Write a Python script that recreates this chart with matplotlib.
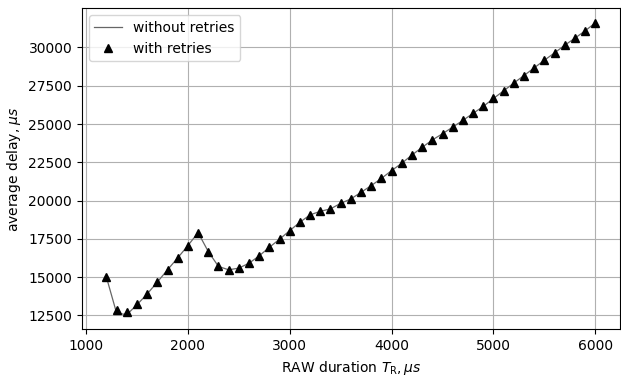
import numpy as np
import matplotlib
matplotlib.use("Agg")
import matplotlib.pyplot as plt

# RAW duration, us
raw_duration = [1200, 1300, 1400, 1500, 1600, 1700, 1800, 1900, 2000, 2100,
                2200, 2300, 2400, 2500, 2600, 2700, 2800, 2900, 3000, 3100,
                3200, 3300, 3400, 3500, 3600, 3700, 3800, 3900, 4000, 4100,
                4200, 4300, 4400, 4500, 4600, 4700, 4800, 4900, 5000, 5100,
                5200, 5300, 5400, 5500, 5600, 5700, 5800, 5900, 6000]

# average delay with retries, us
delay_retries = [15000, 12850, 12750, 13260, 13920, 14680, 15480, 16260, 17060, 17910,
                 16670, 15700, 15480, 15590, 15910, 16390, 16950, 17480, 18040, 18590,
                 19070, 19300, 19460, 19820, 20110, 20540, 20980, 21450, 21960, 22440,
                 22980, 23480, 23960, 24370, 24800, 25240, 25700, 26150, 26670, 27170,
                 27680, 28170, 28670, 29170, 29650, 30150, 30610, 31090, 31610]

# average delay without retries, us
delay_no_retries = [15000, 12650, 12550, 13200, 13900, 14680, 15480, 16260, 17060, 17910,
                    16670, 15700, 15480, 15590, 15910, 16390, 16950, 17480, 18040, 18590,
                    19070, 19300, 19460, 19820, 20110, 20540, 20980, 21450, 21960, 22440,
                    22980, 23480, 23960, 24370, 24800, 25240, 25700, 26150, 26670, 27170,
                    27680, 28170, 28670, 29170, 29650, 30150, 30610, 31090, 31610]

fig, ax = plt.subplots(figsize=(6.21, 3.75), dpi=100)
fig.subplots_adjust(left=0.132, right=0.998, top=0.978, bottom=0.122)

ax.plot(raw_duration, delay_no_retries, color="0.4", lw=0.9, label="without retries")
ax.plot(raw_duration, delay_retries, "^", color="black", ms=6, label="with retries")

ax.set_xticks([1000, 2000, 3000, 4000, 5000, 6000])
ax.set_yticks(np.arange(12500, 30001, 2500))
ax.set_xlabel(r"RAW duration $T_\mathrm{R}, \mu s$")
ax.set_ylabel(r"average delay, $\mu s$")
ax.grid(True)
ax.legend(loc="upper left")

fig.savefig("out.png", dpi=100)
